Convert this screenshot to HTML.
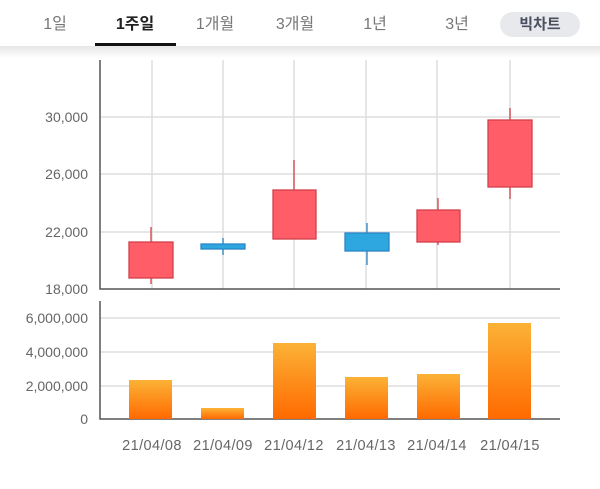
<!DOCTYPE html>
<html><head><meta charset="utf-8"><style>
body{margin:0;width:600px;height:484px;background:#fff;overflow:hidden;font-family:"Liberation Sans","Noto Sans CJK KR",sans-serif}
</style></head><body>
<svg width="600" height="484" xmlns="http://www.w3.org/2000/svg" font-family="Liberation Sans, Noto Sans CJK KR, sans-serif">
<defs>
<linearGradient id="g" x1="0" y1="0" x2="0" y2="1"><stop offset="0" stop-color="#fbb236"/><stop offset="1" stop-color="#ff6a00"/></linearGradient>
<linearGradient id="sh" x1="0" y1="0" x2="0" y2="1"><stop offset="0" stop-color="#e6e6e6"/><stop offset="1" stop-color="#fff"/></linearGradient>
</defs>
<rect x="0" y="46" width="600" height="12" fill="url(#sh)"/>
<g font-size="16" fill="#777" text-anchor="middle">
<text x="55" y="29">1일</text>
<text x="135" y="29" fill="#222" font-weight="bold">1주일</text>
<text x="215" y="29">1개월</text>
<text x="295" y="29">3개월</text>
<text x="375" y="29">1년</text>
<text x="457" y="29">3년</text>
</g>
<rect x="95" y="43" width="81" height="3" fill="#111"/>
<rect x="500" y="12" width="80" height="25" rx="12.5" fill="#e8e9ec"/>
<text x="540" y="29" font-size="15" font-weight="bold" fill="#4a5060" text-anchor="middle">빅차트</text>
<g stroke="#ddd" stroke-width="1.5">
<line x1="152" y1="60" x2="152" y2="289"/><line x1="223" y1="60" x2="223" y2="289"/><line x1="294" y1="60" x2="294" y2="289"/><line x1="366" y1="60" x2="366" y2="289"/><line x1="437" y1="60" x2="437" y2="289"/><line x1="510" y1="60" x2="510" y2="289"/>
<line x1="100" y1="117" x2="560" y2="117"/><line x1="100" y1="174" x2="560" y2="174"/><line x1="100" y1="232" x2="560" y2="232"/>
<line x1="100" y1="318" x2="560" y2="318"/><line x1="100" y1="352" x2="560" y2="352"/><line x1="100" y1="386" x2="560" y2="386"/>
</g>
<g stroke="#555" stroke-width="1.5" fill="none">
<polyline points="100,60 100,289 560,289"/>
<polyline points="100,301 100,419 560,419"/>
</g>
<g font-size="14" fill="#666" text-anchor="end">
<text x="88" y="122">30,000</text><text x="88" y="179">26,000</text><text x="88" y="237">22,000</text><text x="88" y="294">18,000</text>
<text x="88" y="323">6,000,000</text><text x="88" y="357">4,000,000</text><text x="88" y="391">2,000,000</text><text x="88" y="424">0</text>
</g>
<g stroke="#d2404c" stroke-width="1.3" fill="#ff5e68">
<line x1="151" y1="227" x2="151" y2="284"/><rect x="129" y="242" width="44" height="36"/>
<line x1="294" y1="160" x2="294" y2="190"/><rect x="273" y="190" width="43" height="49"/>
<line x1="438" y1="198" x2="438" y2="245"/><rect x="417" y="210" width="43" height="32"/>
<line x1="510" y1="108" x2="510" y2="199"/><rect x="488" y="120" width="44" height="67"/>
</g>
<g stroke="#2b86c6" stroke-width="1.3" fill="#2ea6e0">
<line x1="223" y1="238" x2="223" y2="255"/><rect x="201" y="244" width="44" height="5"/>
<line x1="367" y1="223" x2="367" y2="265"/><rect x="345" y="233" width="44" height="18"/>
</g>
<g fill="url(#g)">
<rect x="129" y="380" width="43" height="39"/>
<rect x="201" y="408" width="43" height="11"/>
<rect x="273" y="343" width="43" height="76"/>
<rect x="345" y="377" width="43" height="42"/>
<rect x="417" y="374" width="43" height="45"/>
<rect x="488" y="323" width="43" height="96"/>
</g>
<g font-size="14.5" fill="#666" text-anchor="middle" letter-spacing="0.4">
<text x="152" y="450">21/04/08</text><text x="223" y="450">21/04/09</text><text x="294" y="450">21/04/12</text><text x="366" y="450">21/04/13</text><text x="437" y="450">21/04/14</text><text x="510" y="450">21/04/15</text>
</g>
</svg>
</body></html>
